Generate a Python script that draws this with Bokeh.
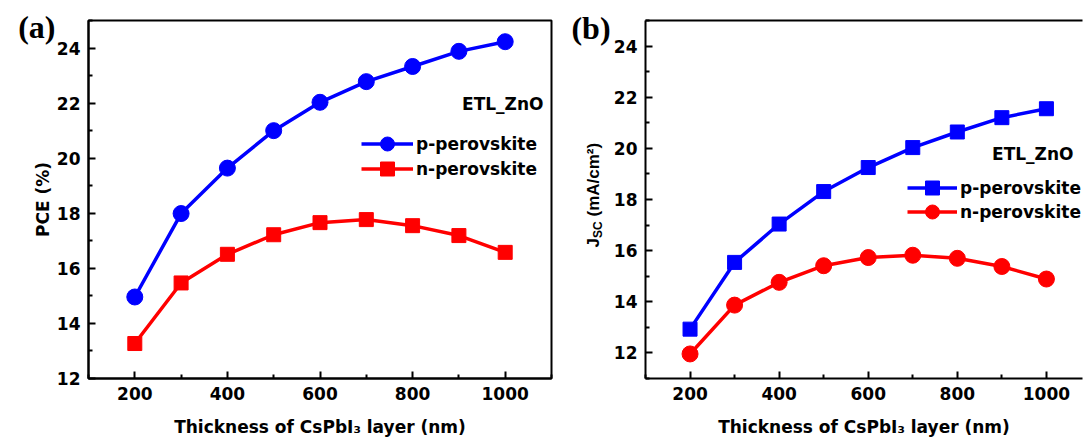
import math
from bokeh.plotting import figure
from bokeh.models import (Label, Legend, LegendItem, LinearAxis, Range1d,
                          FixedTicker)
from bokeh.layouts import row
from bokeh.embed import file_html
from bokeh.resources import INLINE

# ---------------- data ----------------
thickness = [200, 300, 400, 500, 600, 700, 800, 900, 1000]
pce_p = [14.96, 17.99, 19.64, 21.00, 22.03, 22.78, 23.33, 23.88, 24.23]
pce_n = [13.27, 15.47, 16.51, 17.22, 17.66, 17.77, 17.55, 17.19, 16.58]
jsc_p = [12.93, 15.54, 17.04, 18.31, 19.25, 20.03, 20.64, 21.20, 21.55]
jsc_n = [11.96, 13.87, 14.76, 15.41, 15.73, 15.82, 15.70, 15.38, 14.89]
x_ticks = [200, 400, 600, 800, 1000]
y_ticks = [12, 14, 16, 18, 20, 22, 24]
x_minor = [100, 300, 500, 700, 900, 1100]
y_minor = [11, 13, 15, 17, 19, 21, 23, 25]

BLUE = "#0000ff"
RED = "#ff0000"
FONT = "DejaVu Sans"
TS = "17px"
FRAME_H = 358
LW = 3.5


def style_axes(p):
    for ax in p.xaxis + p.yaxis:
        ax.axis_line_width = 2
        ax.axis_line_color = "black"
        ax.major_tick_in = 7
        ax.major_tick_out = 0
        ax.minor_tick_in = 4
        ax.minor_tick_out = 0
        ax.major_tick_line_width = 2
        ax.minor_tick_line_width = 2
        ax.major_label_text_font = FONT
        ax.major_label_text_font_style = "bold"
        ax.major_label_text_font_size = TS
        ax.major_label_text_color = "black"
        ax.axis_label_text_font = FONT
        ax.axis_label_text_font_style = "bold"
        ax.axis_label_text_font_size = TS
        ax.axis_label_text_color = "black"
    p.xaxis.ticker = FixedTicker(ticks=x_ticks, minor_ticks=x_minor)
    p.yaxis.ticker = FixedTicker(ticks=y_ticks, minor_ticks=y_minor)
    p.xaxis.major_label_standoff = 8
    p.yaxis.major_label_standoff = 8
    p.xgrid.visible = False
    p.ygrid.visible = False


def add_legend(p, label, renderers, loc, gw):
    lg = Legend(items=[LegendItem(label=label, renderers=renderers)],
                location=loc, glyph_width=gw, glyph_height=35,
                spacing=0, label_standoff=3, padding=0, margin=0,
                border_line_color=None, background_fill_alpha=0,
                label_text_font=FONT, label_text_font_style="bold",
                label_text_font_size=TS, label_text_color="black")
    p.add_layout(lg, "center")


def text(p, s, x, y, font=FONT, size=TS, align="right", angle=0.0):
    p.add_layout(Label(x=x, y=y, x_units="screen", y_units="screen",
                       text=s, text_align=align, angle=angle,
                       text_baseline="middle", text_font=font,
                       text_font_style="bold", text_font_size=size,
                       text_color="black"))


# ---------------- panel (a) ----------------
p1 = figure(width=560, height=443, output_backend="svg", toolbar_location=None,
            x_range=Range1d(100, 1100), y_range=Range1d(12, 25),
            min_border_left=88, min_border_right=9, min_border_top=20,
            min_border_bottom=65)
p1.extra_y_ranges = {"px": Range1d(0, FRAME_H)}
p1.outline_line_color = "black"
p1.outline_line_width = 2
p1.background_fill_color = "white"
p1.border_fill_color = "white"
style_axes(p1)
p1.xaxis.axis_label = "Thickness of CsPbI\u2083 layer (nm)"
p1.yaxis.axis_label = "PCE (%)"
p1.yaxis.axis_label_standoff = 1
p1.xaxis.axis_label_standoff = 14

l1 = p1.line(thickness, pce_p, line_color=BLUE, line_width=LW)
s1 = p1.scatter(thickness, pce_p, marker="circle", size=16, fill_color=BLUE,
                line_color=BLUE)
l2 = p1.line(thickness, pce_n, line_color=RED, line_width=LW)
s2 = p1.scatter(thickness, pce_n, marker="square", size=14, fill_color=RED,
                line_color=RED)
add_legend(p1, "p-perovskite", [l1, s1], (273, 217), 52)
add_legend(p1, "n-perovskite", [l2, s2], (273, 192), 52)
text(p1, "ETL_ZnO", 455, 275)

# panel tag (a) placed through a line-less extra axis on the left
tag_a = LinearAxis(y_range_name="px", ticker=FixedTicker(ticks=[352.0]),
                   major_label_overrides={352.0: "(a)"},
                   axis_line_color=None, major_tick_line_color=None,
                   minor_tick_line_color=None, major_tick_in=0,
                   major_tick_out=0, minor_tick_in=0, minor_tick_out=0,
                   major_label_standoff=-26,
                   major_label_text_font="Liberation Serif",
                   major_label_text_font_style="bold",
                   major_label_text_font_size="32px",
                   major_label_text_color="black")
p1.add_layout(tag_a, "left")

# ---------------- strip between the panels: tag (b) and y title of (b) ---
mid = figure(width=50, height=443, output_backend="svg", toolbar_location=None,
             x_axis_type=None, y_axis_type=None, min_border=0,
             x_range=Range1d(0, 1), y_range=Range1d(0, 1))
mid.frame_align = False
mid.outline_line_color = None
mid.xgrid.visible = False
mid.ygrid.visible = False
mid.background_fill_color = "white"
mid.border_fill_color = "white"
text(mid, "(b)", 30.5, 416, font="Liberation Serif", size="32px",
     align="center")
text(mid, "J", 33, 196, font="Liberation Sans", size="17px", align="left",
     angle=math.pi / 2)
text(mid, "SC", 37, 205.5, font="Liberation Sans", size="12px", align="left",
     angle=math.pi / 2)
text(mid, "(mA/cm\u00b2)", 33, 227, font="Liberation Sans", size="17px",
     align="left", angle=math.pi / 2)

# ---------------- panel (b) ----------------
p2 = figure(width=473, height=443, output_backend="svg", toolbar_location=None,
            x_range=Range1d(100, 1081), y_range=Range1d(11, 25),
            min_border_left=30, min_border_right=1, min_border_top=20,
            min_border_bottom=65)
p2.outline_line_color = None
p2.background_fill_color = "white"
p2.border_fill_color = "white"
style_axes(p2)
p2.xaxis.axis_label = "Thickness of CsPbI\u2083 layer (nm)"
p2.xaxis.axis_label_standoff = 14
top = LinearAxis(ticker=FixedTicker(ticks=[]), major_tick_line_color=None,
                 minor_tick_line_color=None, major_label_standoff=0,
                 axis_line_width=2, axis_line_color="black")
p2.add_layout(top, "above")

l3 = p2.line(thickness, jsc_p, line_color=BLUE, line_width=LW)
s3 = p2.scatter(thickness, jsc_p, marker="square", size=14, fill_color=BLUE,
                line_color=BLUE)
l4 = p2.line(thickness, jsc_n, line_color=RED, line_width=LW)
s4 = p2.scatter(thickness, jsc_n, marker="circle", size=16, fill_color=RED,
                line_color=RED)
add_legend(p2, "p-perovskite", [l3, s3], (262, 173), 50)
add_legend(p2, "n-perovskite", [l4, s4], (262, 149), 50)
text(p2, "ETL_ZnO", 428, 225)

layout = row(p1, mid, p2)
open("out.html", "w").write(file_html(layout, INLINE))
